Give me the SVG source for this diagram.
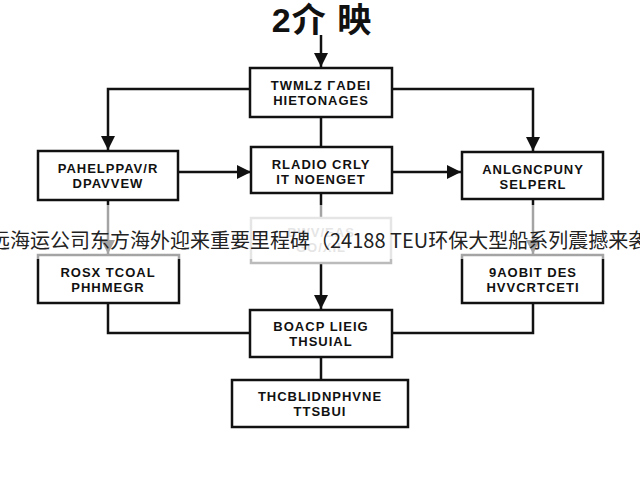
<svg xmlns="http://www.w3.org/2000/svg" width="640" height="480" viewBox="0 0 640 480">
<defs>
<marker id="arr" viewBox="0 0 10 10" refX="10" refY="5" markerWidth="14" markerHeight="14" markerUnits="userSpaceOnUse" orient="auto">
<path d="M0,0 L10,5 L0,10 Z" fill="#111"/>
</marker>
<style>
.box{fill:#fff;stroke:#111;stroke-width:2.5}
.fbox{fill:#fff;stroke:#bbb;stroke-width:2.5}
.ln{fill:none;stroke:#111;stroke-width:2.5}
.t{font-family:"Liberation Sans",Arial,sans-serif;font-weight:bold;font-size:13px;fill:#111;text-anchor:middle;letter-spacing:1px}
.ft{font-family:"Liberation Sans",Arial,sans-serif;font-weight:bold;font-size:13px;fill:#bbb;text-anchor:middle;letter-spacing:1px}
</style>
</defs>
<rect width="640" height="480" fill="#fff"/>
<g id="connectors">
<path class="ln" d="M321,35 L321,67" marker-end="url(#arr)"/>
<path class="ln" d="M250,89 L108,89 L108,150" marker-end="url(#arr)"/>
<path class="ln" d="M392,89 L533,89 L533,151" marker-end="url(#arr)"/>
<path class="ln" d="M321,117 L321,147"/>
<path class="ln" d="M178,172 L251,172" marker-end="url(#arr)"/>
<path class="ln" d="M392,172 L461,172" marker-end="url(#arr)"/>
<path class="ln" d="M108,200 L108,254" marker-end="url(#arr)"/>
<path class="ln" d="M533,199 L533,254" marker-end="url(#arr)"/>
<path class="ln" d="M321,193 L321,218"/>
<path class="ln" d="M321,263 L321,309" marker-end="url(#arr)"/>
<path class="ln" d="M108,303 L108,333 L250,333"/>
<path class="ln" d="M533,303 L533,333 L392,333"/>
<path class="ln" d="M321,357 L321,380"/>
</g>
<g id="title"><text x="322" y="32" style="font-family:'Liberation Sans','Noto Sans CJK SC',sans-serif;font-weight:bold;font-size:34px;fill:#111;text-anchor:middle;letter-spacing:1px">2介 映</text></g>
<g id="n1"><rect class="box" x="250" y="68" width="142" height="49"/><text class="t" x="321" y="90">TWMLZ ΓADEI</text><text class="t" x="321" y="105">HIETONAGES</text></g>
<g id="n2"><rect class="box" x="38" y="151" width="140" height="49"/><text class="t" x="108" y="173">PAHELPPAV/R</text><text class="t" x="108" y="188">DPAVVEW</text></g>
<g id="n3"><rect class="box" x="251" y="147" width="141" height="46"/><text class="t" x="321" y="169">RLADIO CRLY</text><text class="t" x="321" y="184">IT NOENGET</text></g>
<g id="n4"><rect class="box" x="462" y="152" width="141" height="47"/><text class="t" x="533" y="174">ANLGNCPUNY</text><text class="t" x="533" y="189">SELPERL</text></g>
<g id="n5"><rect class="fbox" x="251" y="218" width="140" height="45"/><text class="ft" x="321" y="237">BWV/EAS</text><text class="ft" x="321" y="252">GO/XIL</text></g>
<g id="n6"><rect class="box" x="38" y="255" width="141" height="48"/><text class="t" x="108" y="277">ROSX TCOAL</text><text class="t" x="108" y="292">PHHMEGR</text></g>
<g id="n7"><rect class="box" x="462" y="255" width="141" height="48"/><text class="t" x="533" y="277">9AOBIT DES</text><text class="t" x="533" y="292">HVVCRTCETI</text></g>
<g id="n8"><rect class="box" x="250" y="310" width="142" height="47"/><text class="t" x="321" y="331">BOACP LIEIG</text><text class="t" x="321" y="346">THSUIAL</text></g>
<g id="n9"><rect class="box" x="232" y="380" width="176" height="47"/><text class="t" x="320" y="401">THCBLIDNPHVNE</text><text class="t" x="320" y="416">TTSBUI</text></g>
<rect x="0" y="205" width="640" height="54" fill="#fff" opacity="0.62"/>
<text x="-10" y="248" style="font-family:'Noto Sans CJK SC',sans-serif;font-size:20px;fill:#222">远海运公司东方海外迎来重要里程碑（24188 TEU环保大型船系列震撼来袭）</text>
</svg>
